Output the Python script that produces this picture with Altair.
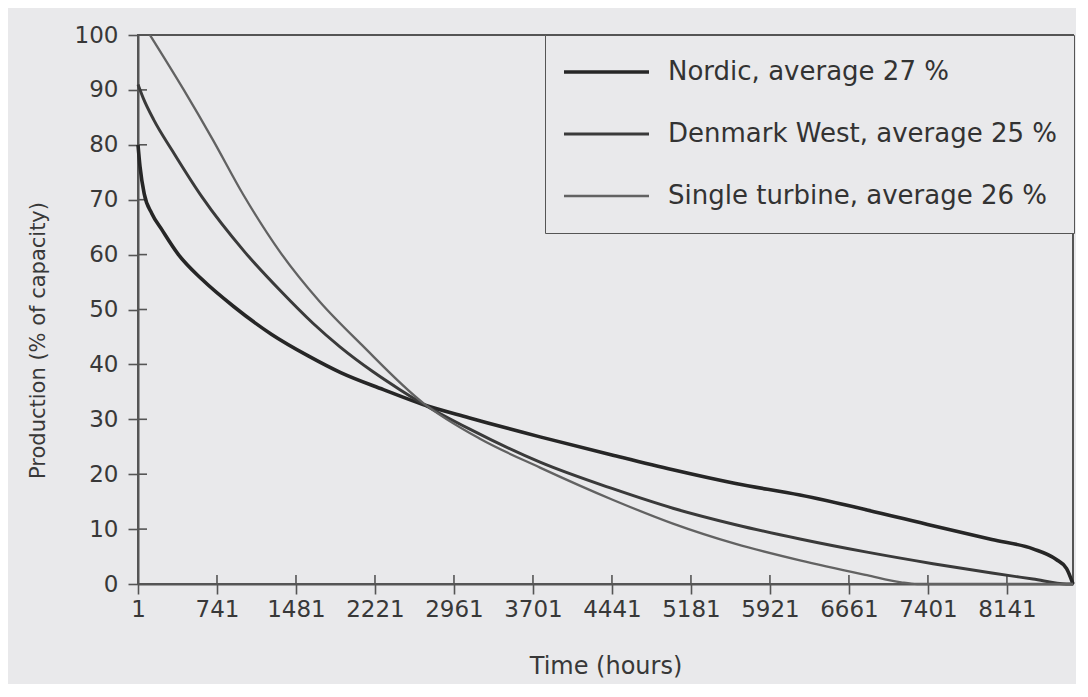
import altair as alt
import pandas as pd

series_names = [
    "Nordic, average 27 %",
    "Denmark West, average 25 %",
    "Single turbine, average 26 %",
]

nordic_hours = [1, 20, 60, 130, 226, 380, 600, 900, 1250, 1600, 1900, 2300, 2671,
                3100, 3767, 4441, 5012, 5600, 6202, 6830, 7448, 8000, 8385, 8600, 8700, 8760]
nordic_values = [80, 76, 71, 67.5, 64.5, 60, 55.5, 50.5, 45.5, 41.5, 38.5, 35.4, 32.7,
                 30.3, 26.8, 23.5, 20.8, 18.3, 16.2, 13.5, 10.6, 8.1, 6.4, 4.5, 2.8, 0]

denmark_hours = [1, 50, 150, 320, 600, 1000, 1331, 1640, 1893, 2200, 2455, 2671,
                 3100, 3767, 4441, 5012, 5600, 6202, 6830, 7448, 8000, 8385, 8700, 8760]
denmark_values = [91, 88.5, 84.5, 79, 70.5, 60.5, 53.5, 47.5, 43.2, 38.7, 35.4, 32.8,
                  28.3, 22.2, 17.4, 13.8, 10.8, 8.2, 5.8, 3.7, 2.0, 0.9, 0, 0]

single_hours = [113, 430, 700, 985, 1331, 1700, 2100, 2671,
                3200, 3767, 4441, 5012, 5600, 6202, 6830, 7150, 7300, 8760]
single_values = [100, 90, 81, 71, 60.5, 51.5, 43.5, 33,
                 26.5, 21.2, 15.4, 11, 7.3, 4.3, 1.6, 0.3, 0, 0]

x_ticks = [1, 741, 1481, 2221, 2961, 3701, 4441, 5181, 5921, 6661, 7401, 8141]
y_ticks = [0, 10, 20, 30, 40, 50, 60, 70, 80, 90, 100]

line_colors = ["#262626", "#3a3a3a", "#626262"]
line_widths = [3.6, 2.3, 1.3]

rows = []
for name, hrs, vals in zip(series_names,
                           [nordic_hours, denmark_hours, single_hours],
                           [nordic_values, denmark_values, single_values]):
    for h, v in zip(hrs, vals):
        rows.append({"series": name, "hours": h, "value": v})
df = pd.DataFrame(rows)

x_scale = alt.Scale(domain=[1, 8760], nice=False, zero=False)
y_scale = alt.Scale(domain=[0, 100], nice=False)

legend = alt.Legend(
    title=None,
    orient="none",
    legendX=407,
    legendY=0,
    padding=17,
    strokeColor="#555555",
    fillColor="#e9e9eb",
    symbolType="stroke",
    symbolSize=7225,
    clipHeight=40,
    rowPadding=22,
    labelOffset=17,
    labelFont="DejaVu Sans",
    labelFontSize=26,
    labelColor="#333333",
    labelLimit=600,
)

lines = alt.Chart(df).mark_line(interpolate="monotone").encode(
    x=alt.X("hours:Q", scale=x_scale,
            axis=alt.Axis(values=x_ticks, format="d", title="Time (hours)")),
    y=alt.Y("value:Q", scale=y_scale,
            axis=alt.Axis(values=y_ticks, format="d", title="Production (% of capacity)")),
    color=alt.Color("series:N",
                    scale=alt.Scale(domain=series_names, range=line_colors),
                    legend=legend),
    strokeWidth=alt.StrokeWidth("series:N",
                                scale=alt.Scale(domain=series_names, range=line_widths),
                                legend=legend),
)

ytick_df = pd.DataFrame({"v": y_ticks})
xtick_df = pd.DataFrame({"v": x_ticks})

y_inner = alt.Chart(ytick_df).mark_rule(color="#555555", strokeWidth=1.6).encode(
    y=alt.Y("v:Q", scale=y_scale),
    x=alt.value(0),
    x2=alt.value(9),
)
x_inner = alt.Chart(xtick_df).mark_rule(color="#555555", strokeWidth=1.6).encode(
    x=alt.X("v:Q", scale=x_scale),
    y=alt.value(549),
    y2=alt.value(540),
)

chart = alt.layer(y_inner, x_inner, lines).properties(
    width=935,
    height=549,
    background="#e9e9eb",
    autosize=alt.AutoSizeParams(type="none"),
    padding={"left": 130, "top": 27, "right": 3, "bottom": 100},
).configure_view(
    stroke="#555555",
    strokeWidth=2,
).configure_axis(
    grid=False,
    domainColor="#555555",
    domainWidth=2,
    tickColor="#555555",
    tickWidth=1.6,
    tickSize=10,
    labelFont="DejaVu Sans",
    labelColor="#383838",
    titleFont="DejaVu Sans",
    titleColor="#383838",
    titleFontWeight="normal",
).configure_axisX(
    labelFontSize=23,
    labelPadding=4,
    titleFontSize=24,
    titlePadding=33,
    labelFlush=False,
    labelOverlap=False,
).configure_axisY(
    labelFontSize=23,
    labelPadding=10,
    titleFontSize=21,
    titleX=-100,
    titleY=305,
    titleBaseline="middle",
    titleAngle=270,
)

chart.save("out.html", embed_options={"renderer": "svg", "actions": False})
